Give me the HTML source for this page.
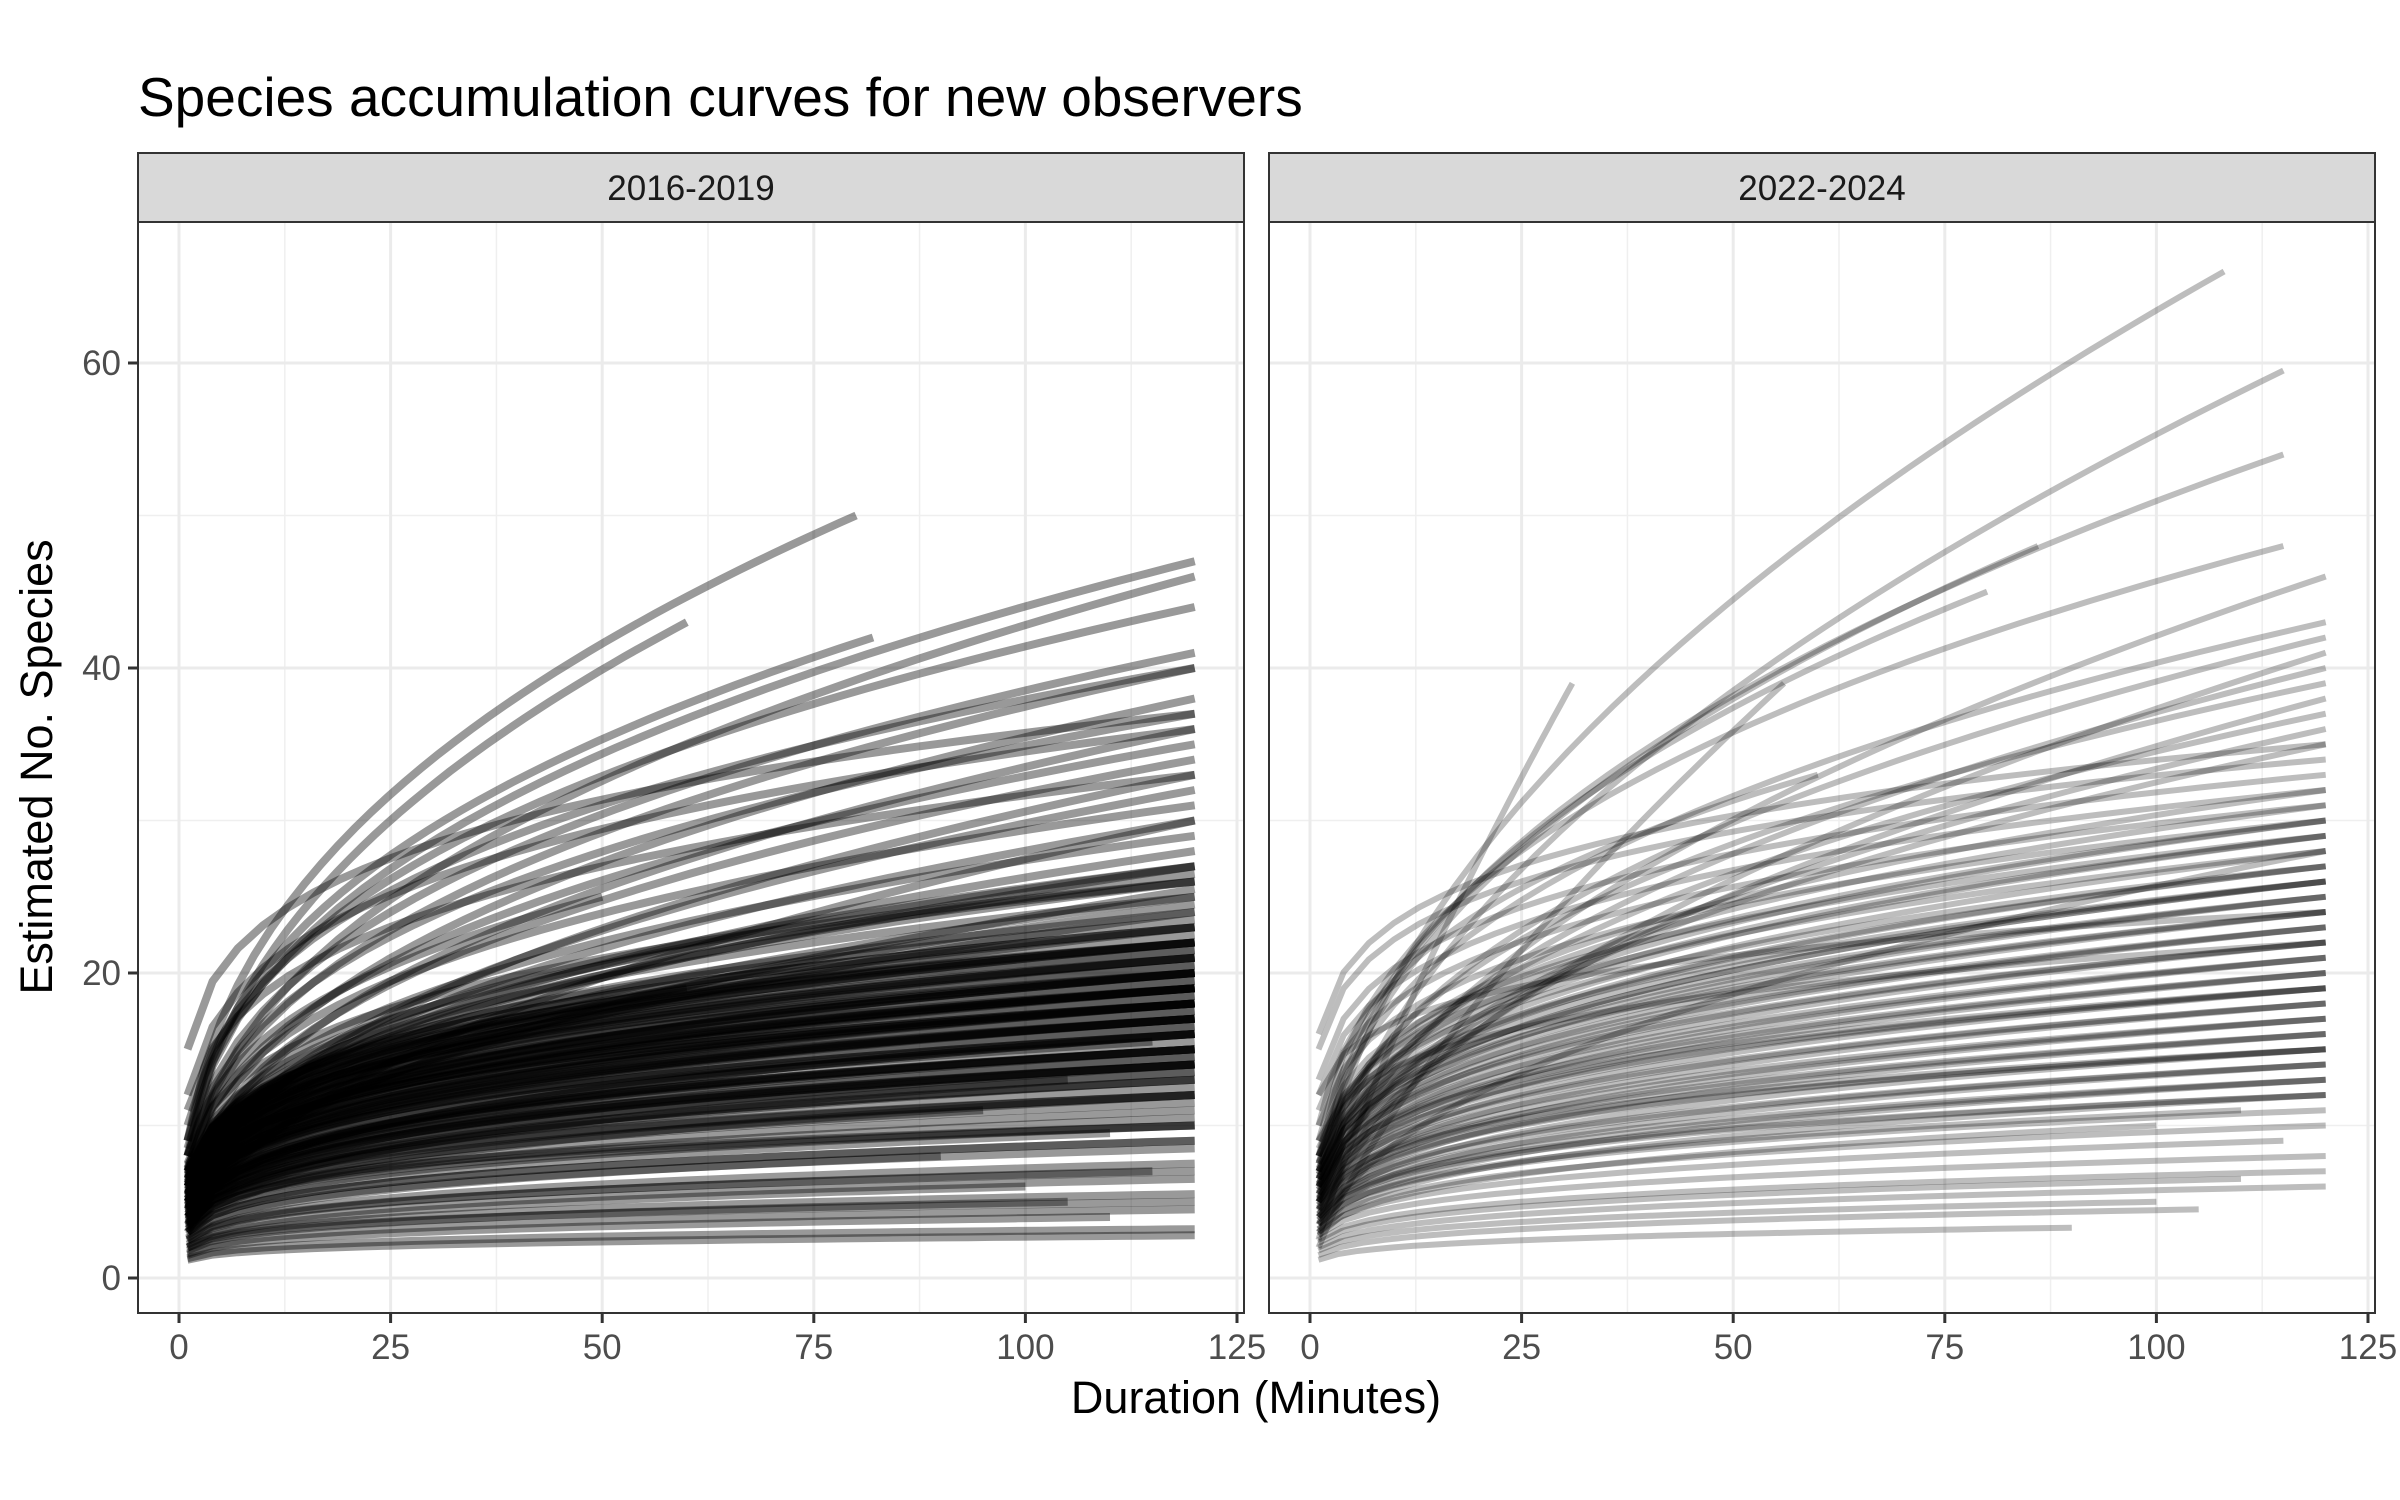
<!DOCTYPE html>
<html><head><meta charset="utf-8"><style>
html,body{margin:0;padding:0;background:#fff;}
svg{display:block;font-family:"Liberation Sans",Arial,sans-serif;}
</style></head><body>
<svg id="chart" width="2400" height="1500" viewBox="0 0 2400 1500" xmlns="http://www.w3.org/2000/svg">
<rect width="2400" height="1500" fill="#fff"/>
<text x="138" y="116" font-size="55" fill="#000">Species accumulation curves for new observers</text>
<g id="panels"></g>
<text x="1256" y="1413" font-size="45" text-anchor="middle" fill="#000">Duration (Minutes)</text>
<text transform="translate(52,767) rotate(-90)" font-size="45" text-anchor="middle" fill="#000">Estimated No. Species</text>
</svg>
<script>
const panelLabels = ["2016-2019", "2022-2024"];
const xTicks = [0, 25, 50, 75, 100, 125];
const yTicks = [0, 20, 40, 60];
// Panel 1 curves: value at x=1, value at end, end duration
const starts1 = [1.2,1.3,1.5,1.6,1.8,2,2,2.2,2.4,2.5,2.6,2.8,3,3,3.2,3.4,3.5,3.6,3.8,4,4,4.2,4.3,4.5,4.6,4.8,5,5,5.2,5.4,5.5,5.6,5.8,6,6,6.2,6.3,6.5,6.6,6.8,7,7,4,4.5,5,3.5,6,5.5,4.8,5.2,6.5,3,7.5,5,4.5,6,7,5.5,8,6.2,7.2,8,6,9,7,8.5,5,7,9,8,10,6,12,9,8,15,11,4,3,2.5,2,5,6,4,3.5,5.5,7,8,6.5,4.2,5.8,6.8,3.8,4.6,5.4,
 3,3.5,4,4.5,5,5.5,6,6.5,7,3.2,3.7,4.2,4.7,5.2,5.7,6.2,6.7,7.2,3.4,3.9,4.4,4.9,5.4,5.9,6.4,6.9,7.4,4,4.6,5.1,5.6,6.1,4.3,4.8,5.3,5.8,6.3,3.6,4.1,4.9,5.5,6,6.6,7.1,3.3,3.8,4.5,5,5.6,6.2,4,4.7,5.4,6,6.8,5,5.2,4.4,3.9,6.5];
const ends1   = [2.8,3.2,4,4.5,5,5.5,6,6.5,7,7.5,8,8.5,9,9.5,10,10.5,11,11.5,12,12.5,13,13.5,14,14.5,15,15.5,16,16.5,17,17.5,18,18.5,19,19.5,20,20.5,21,21.5,22,22.5,23,23.5,24,24.5,25,25.5,26,26.5,27,28,29,30,31,32,33,34,35,36,37,38,40,41,27,44,46,47,30,22,50,43,40,19,36,42,25,37,33,12,9,7,5,17,18,14,10,20,23,26,21,15,19,22,13,16,18,
 12,13,14,15,16,17,18,19,20,13.5,14.5,15.5,16.5,17.5,18.5,19.5,20.5,21.5,14,15,16,17,18,19,20,21,22,16,17,18,19,20,15,17,19,21,23,12,14,18,20,22,24,26,11,13,15,17,19,21,16,18,20,22,25,19,23,14,10,27];
const durs1   = [120,120,110,120,105,120,100,120,115,120,90,120,120,110,120,120,95,120,120,120,105,120,120,120,120,115,120,120,120,120,120,120,120,120,120,120,120,120,120,120,120,120,120,120,120,120,120,120,120,120,120,120,120,120,120,120,120,120,120,120,120,120,120,120,120,120,120,120,80,60,120,60,120,82,50,120,120,120,120,120,120,120,120,120,120,120,120,120,120,120,120,120,120,120,120,
 120,120,120,120,120,120,120,120,120,120,120,120,120,120,120,120,120,120,120,120,120,120,120,120,120,120,120,120,120,120,120,120,120,120,120,120,120,120,120,120,120,120,120,120,120,120,120,120,120,120,120,120,120,120,120,120,120,120,120,120];
// Panel 2 curves
const starts2 = [1.2,1.5,1.8,2,2.3,2.5,2.8,3,3.2,3.5,3.8,4,4.2,4.5,4.8,5,5.2,5.5,5.8,6,6.2,6.5,6.8,7,7.5,8,8.5,9,10,11,12,13,15,16,5,6,4,7,5.5,3.5,6.5,8,4.5,9,7.5,5,6,3,2.5,2,10,7,8,9,6,5,4,6.5,8,12,
 3,3.5,4,4.5,5,5.5,6,6.5,7,7.5,3.2,4.2,5.2,6.2,7.2,3.8,4.8,5.8,6.8,8,4,5,6,7,4.5,5.5,6.5,3.5,4.4,5.3,6.1,7,8,2.8,3.6,4.6,5.6,6.6,7.6,5];
const ends2   = [3.3,4.5,5,6,6.5,7,8,9,10,11,12,13,14,15,16,17,18,19,20,21,22,23,24,25,26,27,28,29,30,31,32,33,34,35,36,37,38,39,40,41,42,43,46,48,54,59.5,66,28,39,39,33,48,45,22,19,15,12,26,30,24,
 12,14,16,18,20,22,24,26,28,30,13,17,21,25,29,15,19,23,27,32,14,18,22,26,16,20,24,11,15,19,23,27,31,10,13,17,21,25,29,35];
const durs2   = [90,105,100,120,110,120,120,115,120,120,120,120,120,120,120,120,120,120,120,120,120,120,120,120,120,120,120,120,120,120,120,120,120,120,120,120,120,120,120,120,120,120,120,115,115,115,108,120,31,56,60,86,80,120,120,120,120,120,120,120,
 120,120,120,120,120,120,120,120,120,120,120,120,120,120,120,120,120,120,120,120,120,120,120,120,120,120,120,110,120,120,120,120,120,100,120,120,120,120,120,120];

const panels = [
  {left:138, right:1244, x0:179, starts:starts1, ends:ends1, durs:durs1, op:0.4, sw:8},
  {left:1269, right:2375, x0:1310, starts:starts2, ends:ends2, durs:durs2, op:0.26, sw:6}
];
const stripTop=153, stripBottom=222, plotBottom=1313;
const xPerUnit = (1237-179)/125;
const yScale = v => 1278 - v*(1278-363)/60;
const NS="http://www.w3.org/2000/svg";
const root=document.getElementById('panels');
function mk(tag, attrs, parent){const e=document.createElementNS(NS,tag);for(const k in attrs)e.setAttribute(k,attrs[k]);parent.appendChild(e);return e;}

panels.forEach((p,pi)=>{
  const xScale = v => p.x0 + v*xPerUnit;
  const g=mk('g',{},root);
  
  
  const bg=mk('rect',{x:p.left,y:stripBottom,width:p.right-p.left,height:plotBottom-stripBottom,fill:'#fff'},g);
  
  
  for(let i=0;i<xTicks.length-1;i++){
    const mx=xScale((xTicks[i]+xTicks[i+1])/2);
    const l=mk('line',{x1:mx,x2:mx,y1:stripBottom,y2:plotBottom,stroke:'#efefef','stroke-width':1.5},g);
    
    
  }
  for(let i=0;i<yTicks.length-1;i++){
    const my=yScale((yTicks[i]+yTicks[i+1])/2);
    const l=mk('line',{x1:p.left,x2:p.right,y1:my,y2:my,stroke:'#efefef','stroke-width':1.5},g);
    
    
  }
  xTicks.forEach(t=>{
    const x=xScale(t);
    const l=mk('line',{x1:x,x2:x,y1:stripBottom,y2:plotBottom,stroke:'#ebebeb','stroke-width':3},g);
    
    
    const tk=mk('line',{x1:x,x2:x,y1:plotBottom,y2:plotBottom+10,stroke:'#333','stroke-width':3},g);
    
    
    const tx=mk('text',{x:x,y:plotBottom+46,'font-size':35,'text-anchor':'middle',fill:'#4d4d4d'},g);
    tx.textContent=t;
    
    
  });
  yTicks.forEach(t=>{
    const y=yScale(t);
    const l=mk('line',{x1:p.left,x2:p.right,y1:y,y2:y,stroke:'#ebebeb','stroke-width':3},g);
    
    
    if(pi===0){
      const tk=mk('line',{x1:p.left-10,x2:p.left,y1:y,y2:y,stroke:'#333','stroke-width':3},g);
      
      
      const tx=mk('text',{x:p.left-17,y:y+12,'font-size':35,'text-anchor':'end',fill:'#4d4d4d'},g);
      tx.textContent=t;
      
      
    }
  });
  const cg=mk('g',{fill:'none',stroke:'#000','stroke-width':p.sw,'stroke-opacity':p.op},g);
  
  
  for(let i=0;i<p.starts.length;i++){
    const s=p.starts[i], e=p.ends[i], D=p.durs[i];
    const b=Math.log(e/s)/Math.log(D);
    let d='';
    for(let k=0;k<=40;k++){
      const x=1+(D-1)*k/40;
      const y=s*Math.pow(x,b);
      d+=(k?'L':'M')+xScale(x).toFixed(1)+','+yScale(y).toFixed(1);
    }
    const path=mk('path',{d:d},cg);
    
    
  }
  const bd=mk('rect',{x:p.left,y:stripBottom,width:p.right-p.left,height:plotBottom-stripBottom,fill:'none',stroke:'#333','stroke-width':2},g);
  
  
  const st=mk('rect',{x:p.left,y:stripTop,width:p.right-p.left,height:stripBottom-stripTop,fill:'#d9d9d9',stroke:'#333','stroke-width':2},g);
  
  
  const sl=mk('text',{x:(p.left+p.right)/2,y:stripBottom-22,'font-size':35,'text-anchor':'middle',fill:'#1a1a1a'},g);
  sl.textContent=panelLabels[pi];
  
  
});
</script>
</body></html>
